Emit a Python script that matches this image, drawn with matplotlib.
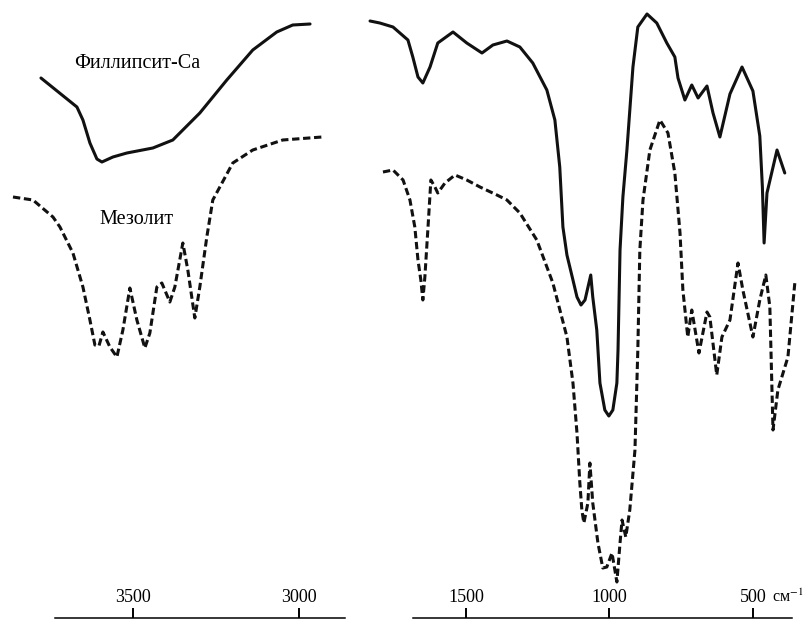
import matplotlib
matplotlib.use('Agg')
import matplotlib.pyplot as plt

plt.rcParams['font.family'] = ['Liberation Serif', 'DejaVu Serif']
plt.rcParams['mathtext.fontset'] = 'stix'

# --- IR spectra (wavenumber, cm-1 / transmittance, arb. units) ---
# high-frequency region
phil_hi_wn = [3776, 3668, 3650, 3629, 3608, 3593, 3560, 3518, 3440, 3380, 3299, 3218,
              3140, 3068, 3020, 2968]
phil_hi_t = [541, 512, 499, 476, 460, 457, 462, 466, 471, 479, 506, 539,
             569, 587, 594, 595]

meso_hi_wn = [3860, 3800, 3740, 3719, 3680, 3650, 3629, 3614, 3602, 3590, 3569, 3548,
              3530, 3509, 3488, 3464, 3449, 3428, 3413, 3389, 3374, 3350, 3335, 3314,
              3299, 3278, 3260, 3200, 3140, 3050, 2932]
meso_hi_t = [422, 419, 402, 392, 366, 332, 299, 274, 273, 287, 272, 262,
             289, 331, 299, 271, 286, 332, 336, 317, 332, 376, 349, 301,
             332, 382, 419, 456, 469, 479, 482]

# low-frequency region
phil_lo_wn = [1834, 1800, 1754, 1702, 1685, 1667, 1650, 1625, 1598, 1545, 1497, 1444,
              1406, 1357, 1312, 1267, 1218, 1190, 1173, 1162, 1148, 1127, 1113, 1099,
              1085, 1065, 1058, 1044, 1033, 1016, 1002, 988, 974, 970, 963, 953,
              939, 918, 901, 869, 835, 800, 772, 761, 737, 713, 691, 660,
              639, 615, 580, 538, 500, 476, 467, 461, 451, 416, 389]
phil_lo_t = [598, 596, 592, 579, 562, 542, 536, 552, 576, 587, 576, 566,
             574, 578, 572, 556, 529, 499, 452, 392, 364, 339, 322, 314,
             319, 344, 322, 289, 236, 209, 203, 209, 236, 269, 369, 422,
             469, 552, 592, 605, 596, 576, 562, 541, 519, 534, 521, 533,
             506, 482, 525, 552, 528, 483, 432, 376, 426, 469, 446]

meso_lo_wn = [1789, 1754, 1719, 1695, 1678, 1667, 1657, 1650, 1643, 1632, 1622, 1608,
              1598, 1573, 1538, 1497, 1451, 1392, 1357, 1312, 1253, 1197, 1148, 1127,
              1113, 1103, 1096, 1089, 1075, 1068, 1058, 1040, 1023, 1009, 991, 981,
              974, 963, 956, 943, 929, 911, 901, 894, 883, 859, 824, 796,
              772, 754, 744, 727, 713, 688, 660, 650, 626, 608, 580, 552,
              535, 500, 476, 455, 441, 430, 413, 378, 354]
meso_lo_t = [447, 449, 439, 419, 392, 359, 339, 319, 342, 392, 439, 432,
             426, 436, 444, 439, 432, 424, 419, 406, 379, 336, 282, 236,
             186, 136, 109, 96, 116, 156, 116, 76, 51, 52, 66, 49,
             37, 76, 99, 82, 109, 169, 269, 369, 419, 469, 499, 486,
             446, 386, 329, 282, 309, 266, 307, 302, 244, 282, 299, 356,
             329, 282, 319, 344, 312, 189, 229, 262, 336]

hi_ticks = [3500, 3000]
lo_ticks = [1500, 1000, 500]

W, H = 804, 619
fig = plt.figure(figsize=(W / 100, H / 100), dpi=100)

solid = dict(color='#111111', lw=2.2, solid_joinstyle='round', solid_capstyle='round')
dashed = dict(color='#111111', lw=2.2, linestyle=(0, (2.4, 1.2)),
              dash_capstyle='butt', dash_joinstyle='round')

# two panels side by side, no gap drawn between them
ax1 = fig.add_axes([0, 0, 360 / W, 1])
ax2 = fig.add_axes([360 / W, 0, 444 / W, 1])

ax1.plot(phil_hi_wn, phil_hi_t, **solid)
ax1.plot(meso_hi_wn, meso_hi_t, **dashed)
ax2.plot(phil_lo_wn, phil_lo_t, **solid)
ax2.plot(meso_lo_wn, meso_lo_t, **dashed)

ax1.set_xlim(3899, 2818)
ax2.set_xlim(1869, 322)

for ax, ticks, bounds in [(ax1, hi_ticks, (3734, 2864)), (ax2, lo_ticks, (1685, 364))]:
    ax.set_ylim(0, H)
    for s in ['top', 'left', 'right']:
        ax.spines[s].set_visible(False)
    ax.spines['bottom'].set_position(('data', 1.2))
    ax.spines['bottom'].set_bounds(*bounds)
    ax.spines['bottom'].set_linewidth(1.1)
    ax.set_yticks([])
    ax.set_xticks(ticks)
    ax.set_xticklabels([str(t) for t in ticks])
    # ticks point up, labels sit above the axis line
    ax.tick_params(axis='x', direction='in', length=7.2, width=1.4,
                   pad=-21, labelsize=13)
    ax.patch.set_visible(False)

ax1.text(3488, 556, 'Филлипсит-Са', fontsize=14.5, ha='center', va='center')
ax1.text(3488, 399, 'Мезолит', fontsize=14.5, ha='center', va='center')

fig.text(772 / W, 1 - 597 / H, 'см$^{-1}$', fontsize=11.5, ha='left', va='center')

fig.savefig('out.png', dpi=100)
